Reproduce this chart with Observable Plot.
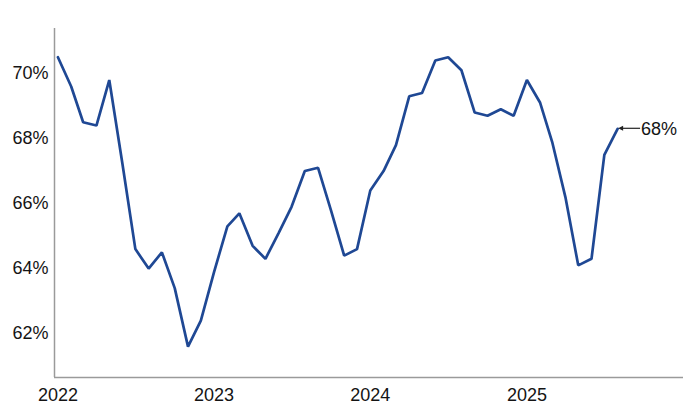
<!DOCTYPE html>
<html>
<head>
<meta charset="utf-8">
<script src="https://cdn.jsdelivr.net/npm/d3@7"></script>
<script src="https://cdn.jsdelivr.net/npm/@observablehq/plot@0.6"></script>
<style>
  html, body { margin: 0; padding: 0; background: #fff; }
  #chart { width: 700px; height: 417px; }
</style>
</head>
<body>
<div id="chart"></div>
<script>
// Monthly values (%), Jan–Dec per year
const years = [2022, 2023, 2024, 2025];
const values2022 = [70.5, 69.6, 68.5, 68.4, 69.8, 67.2, 64.6, 64.0, 64.5, 63.4, 61.6, 62.4];
const values2023 = [63.9, 65.3, 65.7, 64.7, 64.3, 65.1, 65.9, 67.0, 67.1, 65.8, 64.4, 64.6];
const values2024 = [66.4, 67.0, 67.8, 69.3, 69.4, 70.4, 70.5, 70.1, 68.8, 68.7, 68.9, 68.7];
const values2025 = [69.8, 69.1, 67.9, 66.2, 64.1, 64.3, 67.5, 68.3];
const yTicks = [62, 64, 66, 68, 70];
const xTickYears = [2022, 2023, 2024, 2025];
const endLabel = "68%";

const series = [values2022, values2023, values2024, values2025];
const data = [];
years.forEach((yr, i) => {
  series[i].forEach((v, m) => data.push({date: new Date(Date.UTC(yr, m, 1)), value: v}));
});
const last = data[data.length - 1];
const xTicks = xTickYears.map(y => new Date(Date.UTC(y, 0, 1)));

const xDomain = [new Date(Date.UTC(2021, 11, 24)), new Date(Date.UTC(2026, 0, 2))];
const yDomain = [60.65, 71.385];
const font = "'Liberation Sans', Arial, Helvetica, sans-serif";
const lineColor = "#1f4894";
const axisColor = "#9a9a9a";
const textColor = "#141414";

const annotation = (index, scales) => {
  const px = scales.x(last.date), py = scales.y(last.value);
  const ns = "http://www.w3.org/2000/svg";
  const g = document.createElementNS(ns, "g");
  const line = document.createElementNS(ns, "line");
  line.setAttribute("x1", px + 23); line.setAttribute("x2", px + 5);
  line.setAttribute("y1", py); line.setAttribute("y2", py);
  line.setAttribute("stroke", "#222"); line.setAttribute("stroke-width", 1.2);
  g.appendChild(line);
  const head = document.createElementNS(ns, "path");
  head.setAttribute("d", `M${px + 1},${py} L${px + 6},${py - 2.5} L${px + 6},${py + 2.5} Z`);
  head.setAttribute("fill", "#222");
  g.appendChild(head);
  const t = document.createElementNS(ns, "text");
  t.setAttribute("x", px + 24); t.setAttribute("y", py);
  t.setAttribute("dy", "0.36em");
  t.setAttribute("text-anchor", "start");
  t.setAttribute("font-size", 18);
  t.setAttribute("font-family", font);
  t.setAttribute("fill", textColor);
  t.textContent = endLabel;
  g.appendChild(t);
  return g;
};

const chart = Plot.plot({
  width: 700,
  height: 417,
  marginLeft: 54,
  marginRight: 17,
  marginTop: 28,
  marginBottom: 40,
  style: {fontFamily: font, background: "#fff"},
  x: {type: "utc", domain: xDomain, label: null},
  y: {domain: yDomain, label: null},
  marks: [
    Plot.axisX({ticks: xTicks, tickFormat: d => String(d.getUTCFullYear()), tickSize: 0, tickPadding: 11,
                fontSize: 18, fill: textColor, label: null}),
    Plot.axisY({ticks: yTicks, tickFormat: d => d + "%", tickSize: 0, tickPadding: 6,
                fontSize: 18, fill: textColor, label: null}),
    Plot.ruleX([xDomain[0]], {stroke: axisColor, strokeWidth: 1.5}),
    Plot.ruleY([yDomain[0]], {stroke: axisColor, strokeWidth: 1.5}),
    Plot.line(data, {x: "date", y: "value", stroke: lineColor, strokeWidth: 2.7, strokeLinejoin: "miter"}),
    annotation
  ]
});
document.getElementById("chart").appendChild(chart);
</script>
</body>
</html>
